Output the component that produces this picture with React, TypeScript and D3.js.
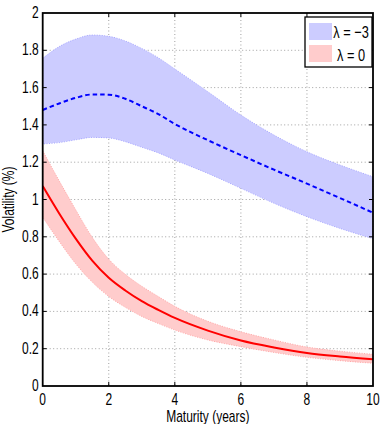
import { useMemo } from 'react'
import * as d3 from 'd3'

const W = 381
const H = 424
const MARGIN = { t: 13, r: 8, b: 38, l: 42.7 }
const FONT = '"Liberation Sans", Arial, sans-serif'

// maturities (years) where the curves were read
const maturity = [0, 0.5, 1, 1.5, 2, 2.5, 3, 3.5, 4, 5, 6, 7, 8, 9, 10]

// lambda = -3 (blue)
const blueMean = [1.48, 1.515, 1.545, 1.563, 1.562, 1.54, 1.5, 1.458, 1.405, 1.318, 1.238, 1.16, 1.085, 1.008, 0.929]
const blueUpper = [1.757, 1.82, 1.86, 1.882, 1.875, 1.85, 1.81, 1.76, 1.7, 1.578, 1.453, 1.346, 1.256, 1.185, 1.122]
const blueLower = [1.298, 1.305, 1.32, 1.333, 1.33, 1.31, 1.28, 1.25, 1.212, 1.14, 1.06, 0.98, 0.908, 0.845, 0.79]

// lambda = 0 (red)
const redMean = [1.072, 0.925, 0.79, 0.672, 0.58, 0.512, 0.455, 0.408, 0.365, 0.297, 0.244, 0.207, 0.177, 0.158, 0.143]
const redUpper = [1.262, 1.1, 0.945, 0.797, 0.68, 0.599, 0.535, 0.48, 0.427, 0.347, 0.291, 0.247, 0.209, 0.187, 0.17]
const redLower = [0.905, 0.775, 0.655, 0.557, 0.48, 0.422, 0.373, 0.335, 0.3, 0.247, 0.211, 0.18, 0.154, 0.136, 0.122]

const xTicks = [0, 2, 4, 6, 8, 10]
const yTicks = [0, 0.2, 0.4, 0.6, 0.8, 1, 1.2, 1.4, 1.6, 1.8, 2]
const legendLabels = ['λ = −3', 'λ = 0']

// MATLAB-style narrow lettering
function T({ x, y, anchor = 'middle', rotate = 0, size = 15, children }: { x: number; y: number; anchor?: string; rotate?: number; size?: number; children: any }) {
  return (
    <text transform={`translate(${x},${y}) rotate(${rotate}) scale(0.8,1.08)`} textAnchor={anchor as any} fontSize={size} fill="#000">
      {children}
    </text>
  )
}

export default function App() {
  const iw = W - MARGIN.l - MARGIN.r
  const ih = H - MARGIN.t - MARGIN.b
  const x = d3.scaleLinear().domain([0, 10]).range([0, iw])
  const y = d3.scaleLinear().domain([0, 2]).range([ih, 0])

  const paths = useMemo(() => {
    const band = (lo: number[], hi: number[]) =>
      d3.area<number>().x((_, i) => x(maturity[i])).y0((_, i) => y(lo[i])).y1((_, i) => y(hi[i])).curve(d3.curveMonotoneX)(lo) || ''
    const line = (v: number[]) =>
      d3.line<number>().x((_, i) => x(maturity[i])).y((d) => y(d)).curve(d3.curveMonotoneX)(v) || ''
    return {
      blueBand: band(blueLower, blueUpper),
      redBand: band(redLower, redUpper),
      blueLine: line(blueMean),
      redLine: line(redMean),
    }
  }, [])

  const fmt = (v: number) => (v === 0 || v === 1 || v === 2 ? String(v) : v.toFixed(1))

  return (
    <div style={{ position: 'absolute', left: 0, top: 0 }}>
      <svg width={W} height={H} style={{ display: 'block', background: '#fff' }} fontFamily={FONT}>
        <g transform={`translate(${MARGIN.l},${MARGIN.t})`}>
          {/* grid */}
          {xTicks.slice(1, -1).map((t) => (
            <line key={'gx' + t} x1={x(t)} x2={x(t)} y1={0} y2={ih} stroke="#a0a0a0" strokeWidth={1} strokeDasharray="1,2.5" />
          ))}
          {yTicks.slice(1, -1).map((t) => (
            <line key={'gy' + t} x1={0} x2={iw} y1={y(t)} y2={y(t)} stroke="#a0a0a0" strokeWidth={1} strokeDasharray="1,2.5" />
          ))}

          {/* bands */}
          <path d={paths.blueBand} fill="#ccccff" stroke="#9999ff" strokeWidth={0.8} strokeDasharray="1,1.5" />
          <path d={paths.redBand} fill="#ffcccc" stroke="#ff9999" strokeWidth={0.8} strokeDasharray="1,1.5" />

          {/* means */}
          <path d={paths.blueLine} fill="none" stroke="#0000ff" strokeWidth={2} strokeDasharray="4.5,3" />
          <path d={paths.redLine} fill="none" stroke="#ff0000" strokeWidth={2} />

          {/* ticks */}
          {xTicks.slice(1, -1).map((t) => (
            <g key={'tx' + t}>
              <line x1={x(t)} x2={x(t)} y1={ih} y2={ih - 4} stroke="#000" />
              <line x1={x(t)} x2={x(t)} y1={0} y2={4} stroke="#000" />
            </g>
          ))}
          {yTicks.slice(1, -1).map((t) => (
            <g key={'ty' + t}>
              <line x1={0} x2={4} y1={y(t)} y2={y(t)} stroke="#000" />
              <line x1={iw} x2={iw - 4} y1={y(t)} y2={y(t)} stroke="#000" />
            </g>
          ))}

          {/* frame */}
          <rect x={0} y={0} width={iw} height={ih} fill="none" stroke="#000" strokeWidth={1.8} />

          {/* tick labels */}
          {xTicks.map((t) => (
            <T key={'lx' + t} x={x(t)} y={ih + 19}>
              {t}
            </T>
          ))}
          {yTicks.map((t) => (
            <T key={'ly' + t} x={-4} y={y(t) + 5} anchor="end">
              {fmt(t)}
            </T>
          ))}

          {/* axis titles */}
          <T x={iw / 2} y={ih + 36}>
            Maturity (years)
          </T>
          <T x={-29} y={ih / 2} rotate={-90}>
            Volatility (%)
          </T>

          {/* legend */}
          <g transform={`translate(${iw - 68},${4})`}>
            <rect x={0} y={0} width={67} height={50} fill="#fff" stroke="#000" strokeWidth={1.3} />
            <rect x={4} y={6} width={23} height={17} fill="#ccccff" />
            <rect x={4} y={28} width={23} height={17} fill="#ffcccc" />
            {legendLabels.map((l, i) => (
              <T key={l} x={46} y={21 + i * 23} size={16}>
                {l}
              </T>
            ))}
          </g>
        </g>
      </svg>
    </div>
  )
}
